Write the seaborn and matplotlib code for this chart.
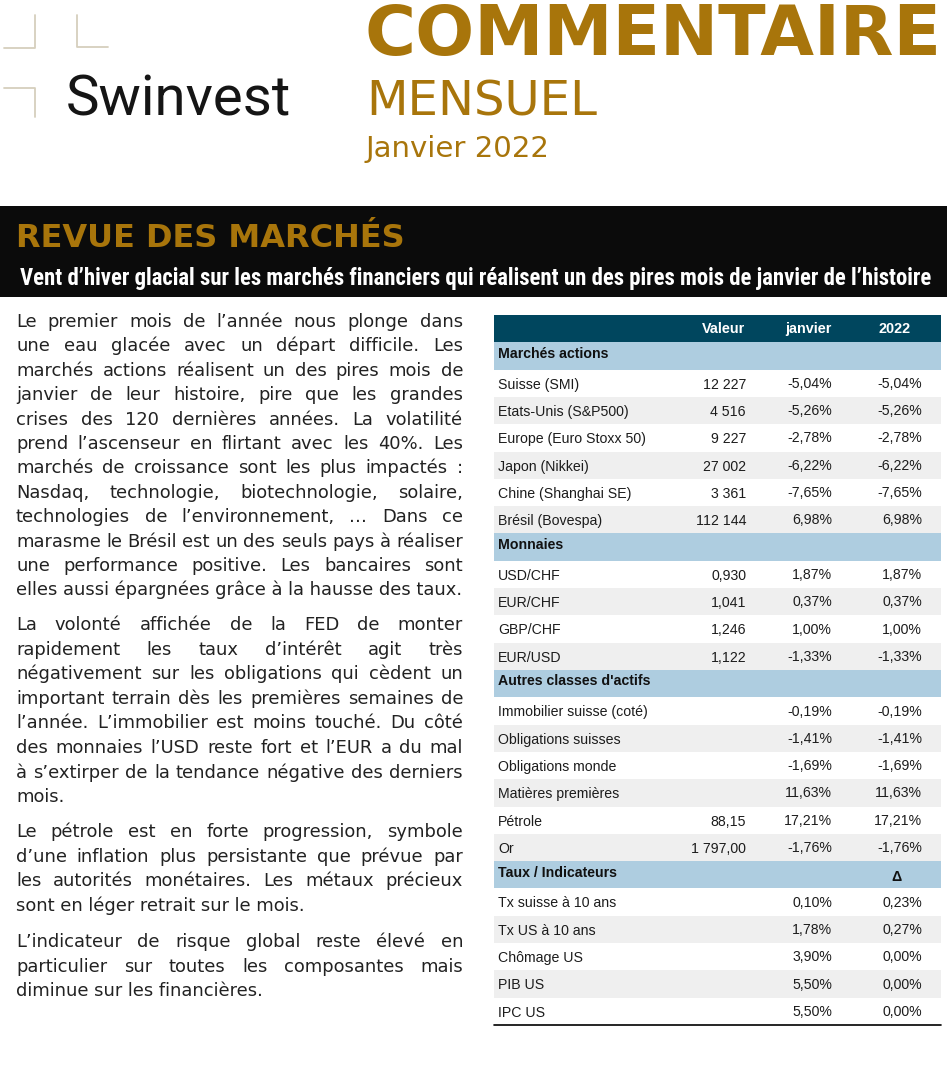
import matplotlib
matplotlib.use("Agg")
import numpy as np
import pandas as pd
import matplotlib.pyplot as plt
from matplotlib.colors import ListedColormap
from matplotlib.patches import Rectangle
from matplotlib import font_manager
import seaborn as sns

W, H = 951, 1079
GOLD = "#a8750b"
TEAL = "#00465e"
SECTION = "#aecde0"
GREY = "#efefef"
INK = "#1c1c1c"

# ---- data -------------------------------------------------------------
equity_names = ["Suisse (SMI)", "Etats-Unis (S&P500)", "Europe (Euro Stoxx 50)",
                "Japon (Nikkei)", "Chine (Shanghai SE)", "Brésil (Bovespa)"]
equity_value = ["12 227", "4 516", "9 227", "27 002", "3 361", "112 144"]
equity_jan = ["-5,04%", "-5,26%", "-2,78%", "-6,22%", "-7,65%", "6,98%"]
equity_ytd = ["-5,04%", "-5,26%", "-2,78%", "-6,22%", "-7,65%", "6,98%"]

fx_names = ["USD/CHF", "EUR/CHF", "GBP/CHF", "EUR/USD"]
fx_value = ["0,930", "1,041", "1,246", "1,122"]
fx_jan = ["1,87%", "0,37%", "1,00%", "-1,33%"]
fx_ytd = ["1,87%", "0,37%", "1,00%", "-1,33%"]

other_names = ["Immobilier suisse (coté)", "Obligations suisses", "Obligations monde",
               "Matières premières", "Pétrole", "Or"]
other_value = ["", "", "", "", "88,15", "1 797,00"]
other_jan = ["-0,19%", "-1,41%", "-1,69%", "11,63%", "17,21%", "-1,76%"]
other_ytd = ["-0,19%", "-1,41%", "-1,69%", "11,63%", "17,21%", "-1,76%"]

rate_names = ["Tx suisse à 10 ans", "Tx US à 10 ans", "Chômage US", "PIB US", "IPC US"]
rate_value = ["", "", "", "", ""]
rate_level = ["0,10%", "1,78%", "3,90%", "5,50%", "5,50%"]
rate_delta = ["0,23%", "0,27%", "0,00%", "0,00%", "0,00%"]

sections = ["Marchés actions", "Monnaies", "Autres classes d'actifs", "Taux / Indicateurs"]
col_headers = ["Valeur", "janvier", "2022"]

para1 = [
    "Le premier mois de l’année nous plonge dans",
    "une eau glacée avec un départ difficile. Les",
    "marchés actions réalisent un des pires mois de",
    "janvier de leur histoire, pire que les grandes",
    "crises des 120 dernières années. La volatilité",
    "prend l’ascenseur en flirtant avec les 40%. Les",
    "marchés de croissance sont les plus impactés :",
    "Nasdaq, technologie, biotechnologie, solaire,",
    "technologies de l’environnement, … Dans ce",
    "marasme le Brésil est un des seuls pays à réaliser",
    "une performance positive. Les bancaires sont",
    "elles aussi épargnées grâce à la hausse des taux.",
]
para2 = [
    "La volonté affichée de la FED de monter",
    "rapidement les taux d’intérêt agit très",
    "négativement sur les obligations qui cèdent un",
    "important terrain dès les premières semaines de",
    "l’année. L’immobilier est moins touché. Du côté",
    "des monnaies l’USD reste fort et l’EUR a du mal",
    "à s’extirper de la tendance négative des derniers",
    "mois.",
]
para3 = [
    "Le pétrole est en forte progression, symbole",
    "d’une inflation plus persistante que prévue par",
    "les autorités monétaires. Les métaux précieux",
    "sont en léger retrait sur le mois.",
]
para4 = [
    "L’indicateur de risque global reste élevé en",
    "particulier sur toutes les composantes mais",
    "diminue sur les financières.",
]

# ---- table frame built from the lists ---------------------------------
blocks = [
    (sections[0], equity_names, equity_value, equity_jan, equity_ytd),
    (sections[1], fx_names, fx_value, fx_jan, fx_ytd),
    (sections[2], other_names, other_value, other_jan, other_ytd),
    (sections[3], rate_names, rate_value, rate_level, rate_delta),
]
rows = [{"label": "", "kind": 0, "v": col_headers[0], "j": col_headers[1], "y": col_headers[2]}]
for sec, names, vals, jan, ytd in blocks:
    rows.append({"label": sec, "kind": 1, "v": "", "j": "",
                 "y": "Δ" if sec.startswith("Taux") else ""})
    for k, (n, v, a, b) in enumerate(zip(names, vals, jan, ytd)):
        rows.append({"label": n, "kind": 2 + (k % 2), "v": v, "j": a, "y": b})
table = pd.DataFrame(rows)

# ---- fonts --------------------------------------------------------------
available = {f.name for f in font_manager.fontManager.ttflist}


def pick(*cands):
    return next((c for c in cands if c in available), "DejaVu Sans")


WIDE = "DejaVu Sans"
COND = pick("Roboto Condensed", "DejaVu Sans Condensed", "Liberation Sans Narrow", "Open Sans")
ARIAL = pick("Liberation Sans", "DejaVu Sans")
LOGO = pick("Roboto", "Liberation Sans")

sns.set_theme(style="white")
plt.rcParams["font.family"] = [WIDE]

fig = plt.figure(figsize=(W / 100, H / 100), dpi=100)
ax = fig.add_axes([0, 0, 1, 1])
ax.set_xlim(0, W)
ax.set_ylim(H, 0)
ax.axis("off")
renderer = fig.canvas.get_renderer()


def width_of(t):
    return t.get_window_extent(renderer).width


def fit_text(s, x0, x1, yb, ha="left", **kw):
    t = ax.text(x0, yb, s, fontsize=20, va="baseline", ha=ha, **kw)
    t.set_fontsize(20 * (x1 - x0) / width_of(t))
    if ha == "center":
        t.set_x((x0 + x1) / 2)
    return t


def justified(lines, x0, x1, y0, step, size, **kw):
    for i, line in enumerate(lines):
        y = y0 + i * step
        if i == len(lines) - 1:
            ax.text(x0, y, line, fontsize=size, va="baseline", **kw)
            continue
        words = line.split(" ")
        texts = [ax.text(0, y, w, fontsize=size, va="baseline", **kw) for w in words]
        ws = [width_of(t) for t in texts]
        gap = (x1 - x0 - sum(ws)) / (len(words) - 1)
        x = x0
        for t, w in zip(texts, ws):
            t.set_x(x)
            x += w + gap


# ---- logo ---------------------------------------------------------------
mark = dict(color="#d6cfbd", lw=1.3)
ax.plot([4, 35, 35], [48, 48, 15], **mark)
ax.plot([77, 77, 108], [15, 47, 47], **mark)
ax.plot([4, 35, 35], [88, 88, 117], **mark)
fit_text("Swinvest", 66, 291, 116, color="#151515", family=LOGO)

# ---- titles -------------------------------------------------------------
fit_text("COMMENTAIRE", 365, 940, 55, color=GOLD, family=WIDE, fontweight="bold")
fit_text("MENSUEL", 366, 597, 115, color=GOLD, family=WIDE)
fit_text("Janvier 2022", 365, 549, 157, color=GOLD, family=WIDE)

# ---- banner -------------------------------------------------------------
ax.add_patch(Rectangle((0, 206), 947, 91, color="#0b0b0b", lw=0))
fit_text("REVUE DES MARCHÉS", 16, 405, 247, color=GOLD, family=WIDE, fontweight="bold")
fit_text("Vent d’hiver glacial sur les marchés financiers qui réalisent un des pires mois de janvier de l’histoire",
         20, 933, 285, color="white", family=COND, fontweight="bold")

# ---- body text: size chosen so the widest line just fits ---------------
body_kw = dict(color="#222222", family=WIDE)
probe = [ax.text(0, 0, l, fontsize=10, **body_kw) for l in para1 + para2 + para3 + para4]
widest = max(width_of(t) for t in probe)
for t in probe:
    t.remove()
size = 10 * 447 / widest
justified(para1, 16, 463, 327, 24.4, size, **body_kw)
justified(para2, 16, 463, 630, 24.6, size, **body_kw)
justified(para3, 16, 463, 837, 24.6, size, **body_kw)
justified(para4, 16, 463, 947, 24.5, size, **body_kw)

# ---- table (seaborn heatmap for the row bands) --------------------------
tx0, tx1, ty0, ty1 = 494, 941, 315, 1025
tax = fig.add_axes([tx0 / W, 1 - ty1 / H, (tx1 - tx0) / W, (ty1 - ty0) / H])
sns.heatmap(table[["kind"]], ax=tax, cmap=ListedColormap([TEAL, SECTION, "white", GREY]),
            vmin=-0.5, vmax=3.5, cbar=False, xticklabels=False, yticklabels=False,
            linewidths=0)
tax.axhline(len(table), color="black", lw=1.2, clip_on=False)


def px(x):
    return (x - tx0) / (tx1 - tx0)


cell = dict(family=ARIAL, fontsize=10.2, va="center")
for i, r in table.iterrows():
    yc = i + 0.52
    if r["kind"] == 0:
        hk = dict(family=ARIAL, fontsize=10.4, va="center", color="white", fontweight="bold")
        tax.text(px(745), yc, r["v"], ha="right", **hk)
        tax.text(px(808), yc, r["j"], ha="center", **hk)
        tax.text(px(895), yc, r["y"], ha="center", **hk)
    elif r["kind"] == 1:
        tax.text(px(498), yc - 0.1, r["label"], ha="left", color="#111111", fontweight="bold",
                 **cell)
        tax.text(px(896), yc + 0.05, r["y"], ha="center", color="#111111", fontweight="bold",
                 **cell)
    else:
        tax.text(px(498), yc + 0.03, r["label"], ha="left", color=INK, **cell)
        tax.text(px(746), yc + 0.03, r["v"], ha="right", color=INK, **cell)
        tax.text(px(832), yc, r["j"], ha="right", color=INK, **cell)
        tax.text(px(922), yc, r["y"], ha="right", color=INK, **cell)

fig.savefig("out.png", dpi=100)
